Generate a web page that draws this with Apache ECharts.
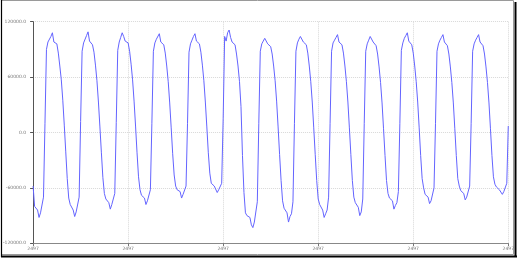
<!DOCTYPE html>
<html>
<head>
<meta charset="utf-8">
<script src="https://cdn.jsdelivr.net/npm/echarts@6/dist/echarts.min.js"></script>
<style>
html,body{margin:0;padding:0;background:#fff;}
#chart{width:517px;height:259px;}
</style>
</head>
<body>
<div id="chart"></div>
<script>
// tick labels shown under the x axis (every 64th sample)
const xTickLabels = ['2497', '2497', '2497', '2497', '2497', '2497'];
const yTicks = [-120000, -60000, 0, 60000, 120000];

// series values, one array per stretch of the signal
const lead = [-58000, -80000, -82000, -84000, -92000, -87000, -85000, -70000];
const cycle1 = [10000, 90000, 98000, 100000, 104000, 108000, 98000, 98000, 96000, 86000, 72000, 57000, 35000, 8000, -21000, -50000, -71000, -78000, -80000, -84000, -91000, -86000, -84000, -70000];
const cycle2 = [12000, 88000, 97000, 99000, 105000, 109000, 99000, 97000, 95000, 87000, 73000, 56000, 33000, 6000, -22000, -49000, -66000, -72000, -74000, -76000, -83000, -78000, -77000, -66000];
const cycle3 = [11000, 89000, 98000, 103000, 108000, 104000, 99000, 98000, 97000, 88000, 74000, 57000, 34000, 7000, -22000, -48000, -62000, -68000, -70000, -71000, -78000, -74000, -73000, -62000];
const cycle4 = [10000, 88000, 97000, 101000, 103000, 107000, 98000, 97000, 95000, 86000, 72000, 55000, 32000, 5000, -23000, -46000, -58000, -62000, -63000, -64000, -71000, -67000, -66000, -58000];
const cycle5 = [10000, 87000, 96000, 100000, 104000, 107000, 99000, 97000, 96000, 87000, 73000, 56000, 33000, 6000, -22000, -44000, -55000, -57000, -58000, -59000, -65000, -62000, -61000, -55000];
const cycle6 = [15000, 104000, 99000, 108000, 111000, 103000, 98000, 100000, 95000, 85000, 72000, 55000, 28000, -25000, -65000, -87000, -90000, -91000, -92000, -100000, -103000, -97000, -95000, -75000];
const cycle7 = [10000, 88000, 96000, 99000, 102000, 101000, 96000, 95000, 93000, 85000, 72000, 56000, 34000, 6000, -24000, -52000, -74000, -82000, -84000, -87000, -97000, -91000, -88000, -75000];
const cycle8 = [10000, 88000, 97000, 101000, 104000, 106000, 98000, 97000, 95000, 86000, 72000, 55000, 33000, 5000, -24000, -52000, -72000, -78000, -80000, -84000, -92000, -88000, -84000, -70000];
const cycle9 = [10000, 88000, 97000, 100000, 103000, 106000, 98000, 97000, 95000, 86000, 72000, 55000, 33000, 5000, -24000, -52000, -70000, -76000, -78000, -81000, -90000, -86000, -72000];
const cycle10 = [10000, 88000, 96000, 100000, 104000, 106000, 98000, 96000, 94000, 85000, 71000, 54000, 32000, 4000, -25000, -52000, -66000, -71000, -72000, -74000, -83000, -79000, -76000, -64000];
const cycle11 = [10000, 89000, 97000, 102000, 105000, 108000, 99000, 97000, 95000, 86000, 72000, 55000, 33000, 5000, -25000, -50000, -60000, -67000, -68000, -70000, -77000, -74000, -73000, -60000];
const cycle12 = [10000, 88000, 96000, 100000, 103000, 106000, 98000, 96000, 94000, 85000, 71000, 54000, 32000, 4000, -25000, -50000, -58000, -63000, -64000, -66000, -73000, -70000, -69000, -58000];
const cycle13 = [10000, 88000, 96000, 100000, 103000, 106000, 98000, 96000, 94000, 85000, 71000, 54000, 32000, 4000, -25000, -48000, -56000, -59000, -60000, -62000, -63000, -67000, -64000, -63000, -55000];
const tail = [7000];

const values = [].concat(lead, cycle1, cycle2, cycle3, cycle4, cycle5, cycle6,
  cycle7, cycle8, cycle9, cycle10, cycle11, cycle12, cycle13, tail);
const categories = values.map((v, i) => String(i));
const labelEvery = 64;

const chart = echarts.init(document.getElementById('chart'), null, {renderer: 'canvas'});
const labelFont = {fontSize: 4.5, color: '#777', fontFamily: 'DejaVu Sans'};
chart.setOption({
  animation: false,
  backgroundColor: '#fff',
  grid: {left: 30, right: 8, top: 21.7, bottom: 15.7, containLabel: false},
  xAxis: {
    type: 'category',
    data: categories,
    boundaryGap: false,
    axisLine: {show: true, onZero: false, lineStyle: {color: '#888', width: 1}},
    axisTick: {show: true, interval: labelEvery - 1, length: 3, lineStyle: {color: '#777'}},
    axisLabel: Object.assign({
      interval: labelEvery - 1, margin: 3,
      formatter: (v, idx) => xTickLabels[Math.round(idx / labelEvery)] || ''
    }, labelFont),
    splitLine: {show: true, interval: labelEvery - 1, lineStyle: {color: '#d8d8d8', type: 'dotted', width: 1}}
  },
  yAxis: {
    type: 'value',
    min: yTicks[0], max: yTicks[yTicks.length - 1], interval: 60000,
    axisLine: {show: true, onZero: false, lineStyle: {color: '#555', width: 1}},
    axisTick: {show: true, length: 3, lineStyle: {color: '#555'}},
    axisLabel: Object.assign({margin: 7, formatter: v => v.toFixed(1)}, labelFont),
    splitLine: {show: true, lineStyle: {color: '#d8d8d8', type: 'dotted', width: 1}}
  },
  series: [{
    type: 'line',
    data: values,
    showSymbol: false,
    smooth: false,
    lineStyle: {color: '#6464ff', width: 1},
    itemStyle: {color: '#6464ff'}
  }],
  graphic: [
    {type: 'rect', shape: {x: 1.5, y: 0.5, width: 512, height: 254}, style: {fill: null, stroke: '#9a9a9a', lineWidth: 1}, silent: true},
    {type: 'line', shape: {x1: 1.5, y1: 0, x2: 1.5, y2: 257}, style: {stroke: '#000', lineWidth: 1.2}, silent: true},
    {type: 'line', shape: {x1: 515.5, y1: 2, x2: 515.5, y2: 257}, style: {stroke: '#000', lineWidth: 2}, silent: true},
    {type: 'line', shape: {x1: 1, y1: 256.5, x2: 517, y2: 256.5}, style: {stroke: '#000', lineWidth: 2}, silent: true}
  ]
});
</script>
</body>
</html>
